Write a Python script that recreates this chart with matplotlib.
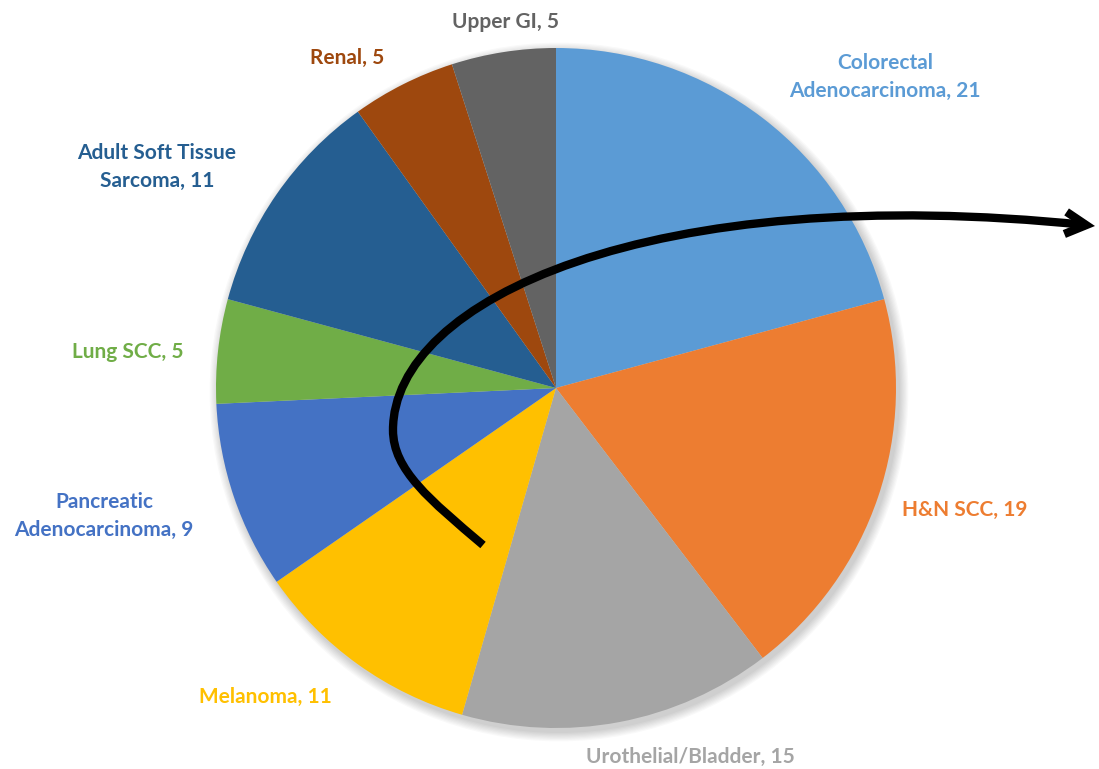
import matplotlib
matplotlib.use('Agg')

import matplotlib.pyplot as plt
from matplotlib.path import Path
from matplotlib.patches import FancyArrowPatch, Circle

plt.rcParams['font.family'] = ['Lato', 'DejaVu Sans']

W, H = 1099, 769

labels = ['Colorectal\nAdenocarcinoma', 'H&N SCC', 'Urothelial/Bladder', 'Melanoma',
          'Pancreatic\nAdenocarcinoma', 'Lung SCC', 'Adult Soft Tissue\nSarcoma',
          'Renal', 'Upper GI']
counts = [21, 19, 15, 11, 9, 5, 11, 5, 5]
colors = ['#5B9BD5', '#ED7D31', '#A5A5A5', '#FFC000', '#4472C4',
          '#70AD47', '#255E91', '#9E480E', '#636363']

# label anchor points, in pixels from the top-left corner
label_xy = [(885, 77), (965, 510), (690, 757), (265, 697), (104, 516),
            (128, 352), (157, 167), (347, 58), (506, 22)]

center = (556, H - 388)
radius = 340

fig = plt.figure(figsize=(W / 100, H / 100), dpi=100)
ax = fig.add_axes([0, 0, 1, 1])

# soft drop shadow under the pie
for k in range(8):
    ax.add_patch(Circle((center[0] + 3, center[1] - 4), radius + 1 + k * 1.2,
                        color='black', alpha=0.025, lw=0, zorder=0))

ax.pie(counts, colors=colors, startangle=90, counterclock=False,
       center=center, radius=radius, wedgeprops=dict(linewidth=0),
       frame=True)
ax.set_xlim(0, W)
ax.set_ylim(0, H)
ax.set_aspect('equal')
ax.axis('off')

for lab, n, c, (x, y) in zip(labels, counts, colors, label_xy):
    ax.text(x, H - y, f'{lab}, {n}', color=c, fontsize=15, fontweight='bold',
            ha='center', va='center', linespacing=1.55)

# curved arrow sweeping across the pie
arrow_pts = [(483, 545), (430, 500), (393, 470), (393, 430),
             (393, 300), (650, 180), (1095, 226)]
codes = [Path.MOVETO] + [Path.CURVE4] * 6
path = Path([(x, H - y) for x, y in arrow_pts], codes)
arrow = FancyArrowPatch(path=path, arrowstyle='->,head_length=15,head_width=8',
                        color='black', lw=6, zorder=5, capstyle='butt',
                        joinstyle='miter')
ax.add_patch(arrow)

fig.savefig('out.png', dpi=100)
